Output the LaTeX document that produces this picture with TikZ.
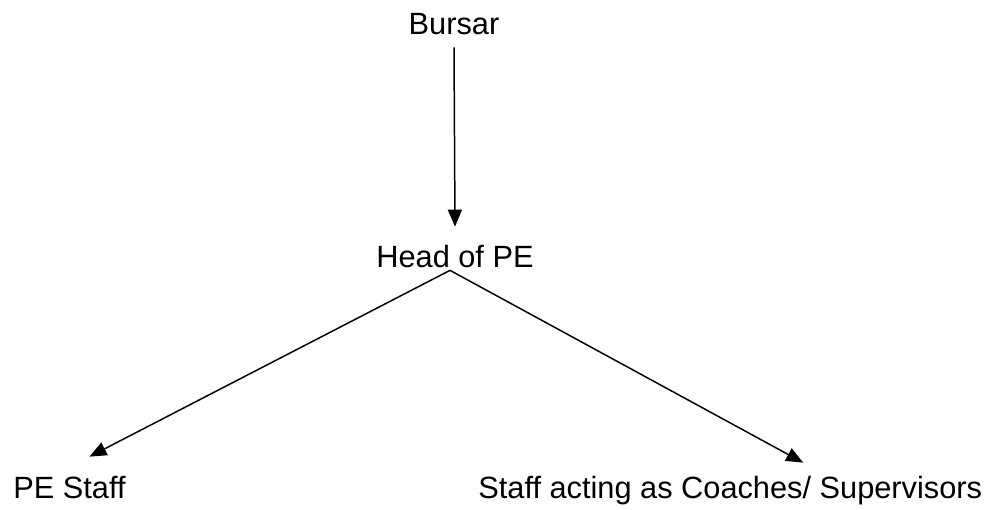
\documentclass[tikz,border=0pt]{standalone}
\usepackage{fontspec}
\setmainfont{Liberation Sans}
\usetikzlibrary{arrows.meta}

\begin{document}
\begin{tikzpicture}[every node/.style={inner sep=0pt,text height=0.44cm,text depth=0.12cm,
      font=\fontsize{17.5}{20}\selectfont},
   link/.style={line width=0.85pt,-{Triangle[length=0.34cm,width=0.28cm]}}]
\useasboundingbox (0,0) rectangle (19.98,10.18);
\node[anchor=base] (bursar) at (9.08,9.48) {Bursar};
\node[anchor=base] (head) at (9.10,4.84) {Head of PE};
\node[anchor=base west] (pestaff) at (0.26,0.22) {PE Staff};
\node[anchor=base west] (coaches) at (9.56,0.22) {Staff acting as Coaches/ Supervisors};
\draw[link] ([yshift=-0.12cm]bursar.south) -- ([yshift=0.36cm]head.north);
\draw[link] ([xshift=-0.1cm,yshift=0.06cm]head.south) -- ([shift={(0.4,0.38)}]pestaff.north);
\draw[link] ([xshift=-0.1cm,yshift=0.06cm]head.south) -- ([shift={(1.46,0.26)}]coaches.north);
\end{tikzpicture}
\end{document}
